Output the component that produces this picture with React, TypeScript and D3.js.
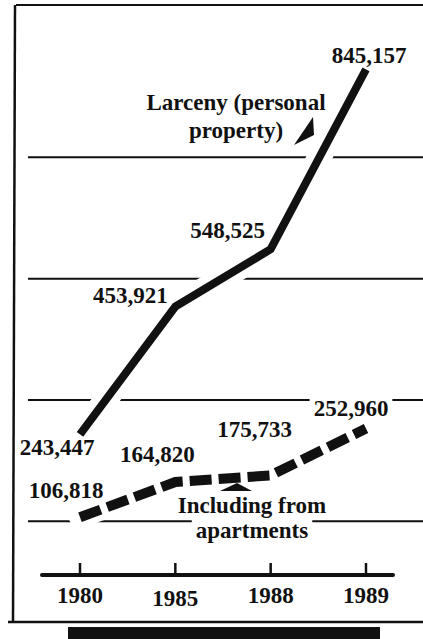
import * as d3 from "d3";
import React, { useEffect, useRef } from "react";

const years = ["1980", "1985", "1988", "1989"];
const larceny = [243447, 453921, 548525, 845157];
const apartments = [106818, 164820, 175733, 252960];
const gridValues = [100000, 300000, 500000, 700000];
const larcenyNote = ["Larceny (personal", "property)"];
const apartmentsNote = ["Including from", "apartments"];

const width = 423;
const height = 639;
const font = "'Liberation Serif', 'Times New Roman', serif";

// label nudges in px from each point (middle anchored)
const larcenyOffsets = [[-23, 21], [-45, -4], [-43, -11], [3, -6]];
const apartmentOffsets = [[-14, -19], [-18, -20], [-16, -38], [-15, -13]];

function Chart() {
  const ref = useRef<SVGSVGElement>(null);

  useEffect(() => {
    if (!ref.current) return;
    const svg = d3.select(ref.current);
    svg.selectChildren().remove();

    const x = d3.scalePoint<string>().domain(years).range([80, 366]);
    const y = d3.scaleLinear().domain([0, 900000]).range([582, 36]);
    const axisY = 575;
    const fmt = d3.format(",");
    const line = d3
      .line<number>()
      .x((d, i) => x(years[i])!)
      .y((d) => y(d));

    svg.append("rect").attr("width", width).attr("height", height).attr("fill", "#fff");

    // frame + dark strip below
    const frame = svg.append("g").attr("stroke", "#111").attr("fill", "none");
    frame.append("line").attr("x1", 16).attr("x2", width).attr("y1", 5).attr("y2", 5).attr("stroke-width", 2);
    frame.append("line").attr("x1", 15).attr("x2", 13).attr("y1", 5).attr("y2", 622).attr("stroke-width", 2.5);
    frame.append("line").attr("x1", 8).attr("x2", width).attr("y1", 622).attr("y2", 622).attr("stroke-width", 2.5);
    svg.append("rect").attr("x", 68).attr("y", 627).attr("width", 312).attr("height", 12).attr("fill", "#111");

    // gridlines
    svg
      .append("g")
      .selectAll("line")
      .data(gridValues)
      .join("line")
      .attr("x1", 28)
      .attr("x2", width)
      .attr("y1", (d) => y(d))
      .attr("y2", (d) => y(d))
      .attr("stroke", "#111")
      .attr("stroke-width", 2);

    // white knockouts so grid breaks around lines and labels
    const halo = svg.append("g").attr("fill", "#fff").attr("stroke", "#fff");
    halo
      .append("path")
      .attr("d", line(larceny))
      .attr("fill", "none")
      .attr("stroke-width", 24)
      .attr("stroke-linecap", "round")
      .attr("stroke-linejoin", "round");
    halo
      .append("path")
      .attr("d", line(apartments))
      .attr("fill", "none")
      .attr("stroke-width", 22)
      .attr("stroke-linecap", "round")
      .attr("stroke-linejoin", "round");

    // x axis
    const axis = svg.append("g").attr("stroke", "#111");
    axis
      .append("line")
      .attr("x1", 42)
      .attr("x2", 393)
      .attr("y1", axisY)
      .attr("y2", axisY)
      .attr("stroke-width", 4)
      .attr("stroke-linecap", "round");
    axis
      .selectAll(".tick")
      .data(years)
      .join("line")
      .attr("class", "tick")
      .attr("x1", (d) => x(d)!)
      .attr("x2", (d) => x(d)!)
      .attr("y1", axisY - 12)
      .attr("y2", axisY)
      .attr("stroke-width", 2.5);
    svg
      .append("g")
      .attr("font-family", font)
      .attr("font-weight", "bold")
      .attr("font-size", 23)
      .attr("text-anchor", "middle")
      .attr("fill", "#111")
      .selectAll("text")
      .data(years)
      .join("text")
      .attr("x", (d) => x(d)!)
      .attr("y", (d, i) => axisY + 28 + (i === 1 ? 3 : 0))
      .text((d) => d);

    // series lines
    svg
      .append("path")
      .attr("d", line(larceny))
      .attr("fill", "none")
      .attr("stroke", "#111")
      .attr("stroke-width", 8)
      .attr("stroke-linejoin", "miter");
    svg
      .append("path")
      .attr("d", line(apartments))
      .attr("fill", "none")
      .attr("stroke", "#111")
      .attr("stroke-width", 10)
      .attr("stroke-dasharray", "22 7");

    // value labels + notes
    const labels = svg
      .append("g")
      .attr("font-family", font)
      .attr("font-weight", "bold")
      .attr("font-size", 23)
      .attr("text-anchor", "middle")
      .attr("fill", "#111");

    larceny.forEach((v, i) => {
      labels
        .append("text")
        .attr("x", x(years[i])! + larcenyOffsets[i][0])
        .attr("y", y(v) + larcenyOffsets[i][1])
        .text(fmt(v));
    });
    apartments.forEach((v, i) => {
      labels
        .append("text")
        .attr("x", x(years[i])! + apartmentOffsets[i][0])
        .attr("y", y(v) + apartmentOffsets[i][1])
        .text(fmt(v));
    });

    const noteX = 236;
    larcenyNote.forEach((t, i) => {
      labels.append("text").attr("x", noteX).attr("y", 110 + i * 28).text(t);
    });
    const aptX = 252;
    apartmentsNote.forEach((t, i) => {
      labels.append("text").attr("x", aptX).attr("y", 513 + i * 25).text(t);
    });

    // pointers
    svg
      .append("path")
      .attr("d", `M${noteX + 58},145 L${noteX + 77},117 L${noteX + 78},135 Z`)
      .attr("fill", "#111");
    svg
      .append("path")
      .attr("d", `M${aptX - 32},491 L${aptX - 15},483 L${aptX},491 Z`)
      .attr("fill", "#111");

    // knock the grid out behind each label box
    labels.selectAll<SVGTextElement, unknown>("text").each(function () {
      const b = this.getBBox();
      halo
        .append("rect")
        .attr("x", b.x - 4)
        .attr("y", b.y)
        .attr("width", b.width + 8)
        .attr("height", b.height)
        .attr("stroke", "none");
    });
  }, []);

  return (
    <svg
      ref={ref}
      width={width}
      height={height}
      style={{ position: "absolute", left: 0, top: 0, display: "block" }}
    ></svg>
  );
}

export default function App() {
  return <Chart />;
}
